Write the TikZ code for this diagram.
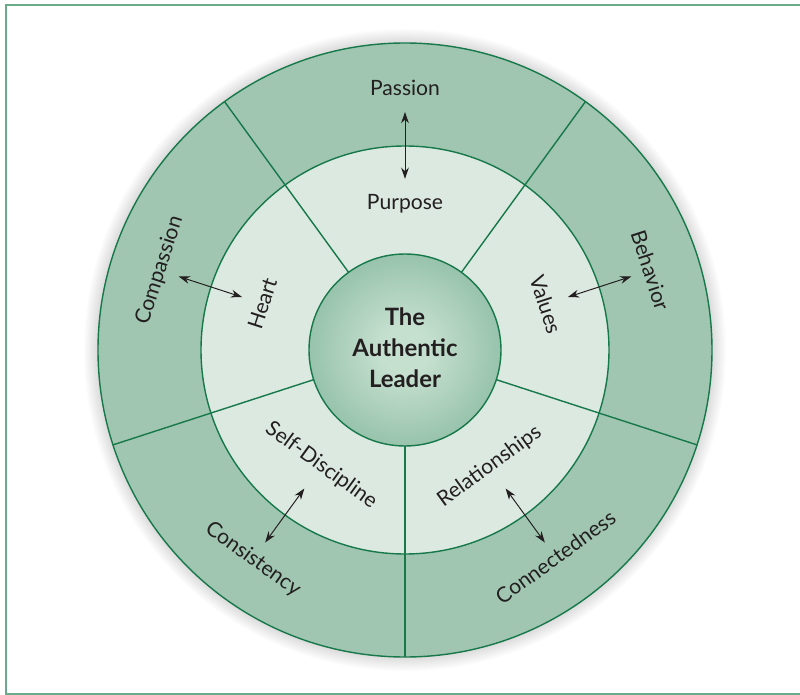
\documentclass[tikz,border=0pt]{standalone}
\usepackage{fontspec}
\setmainfont{Lato}
\usetikzlibrary{arrows.meta}
\tikzset{>={Stealth[length=8pt,width=5.5pt]}}
\definecolor{ringout}{HTML}{A0C6B1}
\definecolor{ringmid}{HTML}{DCE9E1}
\definecolor{rim}{HTML}{17784A}
\definecolor{frameline}{HTML}{6AAB8A}
\definecolor{ink}{HTML}{231F20}
\definecolor{ballin}{HTML}{C6E0D0}
\definecolor{ballout}{HTML}{5A9C7B}
\pgfdeclareradialshading{ballshade}{\pgfpoint{0bp}{0bp}}{color(0bp)=(ballin); color(6bp)=(ballin); color(50bp)=(ballout)}
\tikzset{
  word/.style={font=\fontsize{15}{18}\selectfont, text=ink, inner sep=0pt},
  centre/.style={font=\fontsize{17}{22}\selectfont\bfseries, text=ink, align=center, inner sep=0pt},
  rimline/.style={rim, line width=1pt},
  arr/.style={<->, ink, line width=0.7pt}
}

\begin{document}
\begin{tikzpicture}
        \useasboundingbox (-10.125,-8.625) rectangle (9.875,8.75);
        \draw[frameline, line width=1.1pt] (10.5,8.625) -- (-9.975,8.625) -- (-9.975,-8.6) -- (10.5,-8.6);
        \foreach \r in {7.70,7.73,...,8.05} \fill[black, opacity=0.012] (0,0) circle (\r);
        \fill[ringout] (0,0) circle (7.675);
        \fill[ringmid] (0,0) circle (5.1);
        \draw[rimline] (0,0) circle (7.675);
        \draw[rimline] (0,0) circle (5.1);
        \foreach \a in {54,126,198,270,342} \draw[rimline] (\a:2.4) -- (\a:7.675);
        \shade[shading=ballshade] (0,0) circle (2.4);
        \draw[rimline] (0,0) circle (2.4);
        \node[centre] (leader) at (0,0.05) {The\\Authentic\\Leader};
        \node[word] (passion) at (90:6.55) {Passion};
        \node[word] (purpose) at (90:3.65) {Purpose};
        \node[word, rotate=-72] (behavior) at (18:6.45) {Behavior};
        \node[word, rotate=-72] (values) at (18:3.7) {Values};
        \node[word, rotate=72] (compassion) at (162:6.45) {Compassion};
        \node[word, rotate=72] (heart) at (162:3.75) {Heart};
        \node[word, rotate=-36] (consistency) at (234:6.47) {Consistency};
        \node[word, rotate=-36] (selfdisc) at (234:3.57) {Self-Discipline};
        \node[word, rotate=36] (connected) at (306:6.4) {Connectedness};
        \node[word, rotate=36] (relations) at (306:3.6) {Relationships};
        \coordinate (passion-end) at (90:5.95);
        \coordinate (purpose-end) at (90:4.28);
        \coordinate (behavior-end) at (18:5.95);
        \coordinate (values-end) at (18:4.28);
        \coordinate (compassion-end) at (162:5.95);
        \coordinate (heart-end) at (162:4.28);
        \coordinate (consistency-end) at (234:5.95);
        \coordinate (selfdisc-end) at (234:4.28);
        \coordinate (connected-end) at (306:5.95);
        \coordinate (relations-end) at (306:4.28);
        \draw[arr] (passion-end) -- (purpose-end);
        \draw[arr] (behavior-end) -- (values-end);
        \draw[arr] (compassion-end) -- (heart-end);
        \draw[arr] (consistency-end) -- (selfdisc-end);
        \draw[arr] (connected-end) -- (relations-end);
      \end{tikzpicture}
\end{document}
